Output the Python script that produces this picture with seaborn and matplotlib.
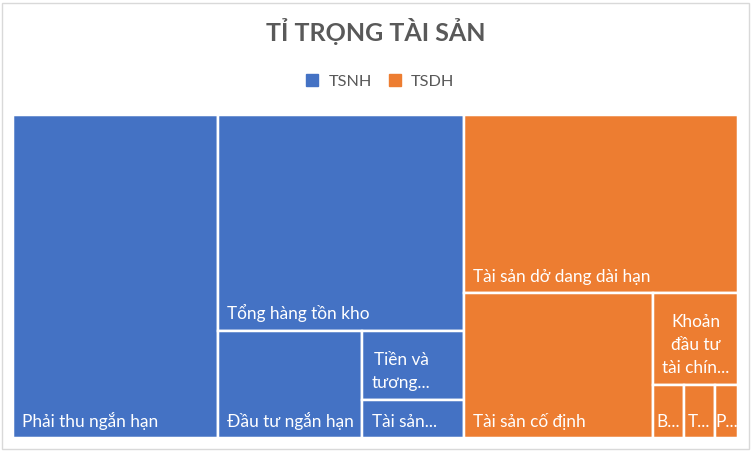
import matplotlib
matplotlib.use('Agg')
import matplotlib.pyplot as plt
from matplotlib.patches import Rectangle
from matplotlib.lines import Line2D
import seaborn as sns

# Share of total assets (%)
groups = ['TSNH', 'TSDH']
group_colors = ['#4472C4', '#ED7D31']

tsnh_items = ['Phải thu ngắn hạn', 'Tổng hàng tồn kho', 'Đầu tư ngắn hạn',
              'Tiền và tương đương tiền', 'Tài sản ngắn hạn khác']
tsnh_values = [28.26, 22.63, 6.63, 2.98, 1.65]
tsnh_labels = ['Phải thu ngắn hạn', 'Tổng hàng tồn kho', 'Đầu tư ngắn hạn',
               'Tiền và\ntương...', 'Tài sản...']

tsdh_items = ['Tài sản dở dang dài hạn', 'Tài sản cố định',
              'Khoản đầu tư tài chính dài hạn', 'Bất động sản đầu tư',
              'Tài sản dài hạn khác', 'Phải thu dài hạn']
tsdh_values = [20.85, 11.76, 3.32, 0.69, 0.71, 0.54]
tsdh_labels = ['Tài sản dở dang dài hạn', 'Tài sản cố định',
               'Khoản\nđầu tư\ntài chín...', 'B...', 'T...', 'P...']

sns.set_theme(style='white')
plt.rcParams['font.family'] = ['Lato', 'Noto Sans', 'DejaVu Sans']


def worst(row, side):
    s = sum(row)
    return max(max(side ** 2 * r / s ** 2, s ** 2 / (side ** 2 * r)) for r in row)


def squarify(areas, x, y, w, h):
    # squarified treemap, y grows downward
    rects = []
    areas = list(areas)
    while areas:
        side = min(w, h)
        row = [areas[0]]
        k = 1
        while k < len(areas) and worst(row + [areas[k]], side) <= worst(row, side):
            row.append(areas[k])
            k += 1
        areas = areas[k:]
        s = sum(row)
        if w >= h:
            cw = s / h
            yy = y
            for r in row:
                rects.append((x, yy, cw, r / cw))
                yy += r / cw
            x += cw
            w -= cw
        else:
            rh = s / w
            xx = x
            for r in row:
                rects.append((xx, y, r / rh, rh))
                xx += r / rh
            y += rh
            h -= rh
    return rects


FW, FH = 751, 451
fig = plt.figure(figsize=(FW / 100, FH / 100), dpi=100)
renderer = fig.canvas.get_renderer()

# plot area in pixels (includes half of the white gap on the outer edges)
L, R, T, B = 12.75, 738.25, 115.25, 438.25
W, H = R - L, B - T
GAP = 2.5
ax = fig.add_axes([L / FW, 1 - B / FH, W / FW, H / FH])
ax.set_xlim(0, W)
ax.set_ylim(H, 0)
ax.axis('off')

LINE_STEP = 23.3


def put_label(x, y, w, h, text):
    # lines centred on each other, block aligned left, last line on baseline
    lines = text.split('\n')
    objs = [ax.text(0, 0, ln, color='white', fontsize=12.4, ha='center', va='baseline')
            for ln in lines]
    maxw = max(o.get_window_extent(renderer).width for o in objs)
    inner = w - GAP
    pad = min(8, (inner - maxw) / 2)
    cx = x + GAP / 2 + pad + maxw / 2
    baseline = y + h - GAP / 2 - 10.3
    n = len(lines)
    for i, o in enumerate(objs):
        o.set_position((cx, baseline - (n - 1 - i) * LINE_STEP))


children = [(tsnh_values, tsnh_labels), (tsdh_values, tsdh_labels)]
totals = [sum(v) for v, _ in children]
scale = W * H / sum(totals)
group_rects = squarify([t * scale for t in totals], 0, 0, W, H)

for (gx, gy, gw, gh), (vals, labs), color in zip(group_rects, children, group_colors):
    sub = squarify([v * scale for v in vals], gx, gy, gw, gh)
    for (x, y, w, h), lab in zip(sub, labs):
        ax.add_patch(Rectangle((x, y), w, h, facecolor=color,
                               edgecolor='white', linewidth=GAP * 0.72))
        put_label(x, y, w, h, lab)

fig.text(0.5, 1 - 40.7 / FH, 'TỈ TRỌNG TÀI SẢN', ha='center', va='baseline',
         fontsize=18, fontweight='bold', color='#595959')

handles = [Line2D([], [], marker='s', linestyle='none', markersize=8.4, color=c)
           for c in group_colors]
fig.legend(handles, groups, loc='center', bbox_to_anchor=(380 / FW, 1 - 81.5 / FH),
           ncol=2, frameon=False, fontsize=11.7, labelcolor='#595959',
           handletextpad=0.6, columnspacing=1.0, handlelength=0.8)

fig.add_artist(Rectangle((1.5 / FW, 2.5 / FH), (748.5 - 1.5) / FW, (448.5 - 2.5) / FH,
                         transform=fig.transFigure, fill=False,
                         edgecolor='#D9D9D9', linewidth=1))

fig.savefig('out.png', dpi=100)
